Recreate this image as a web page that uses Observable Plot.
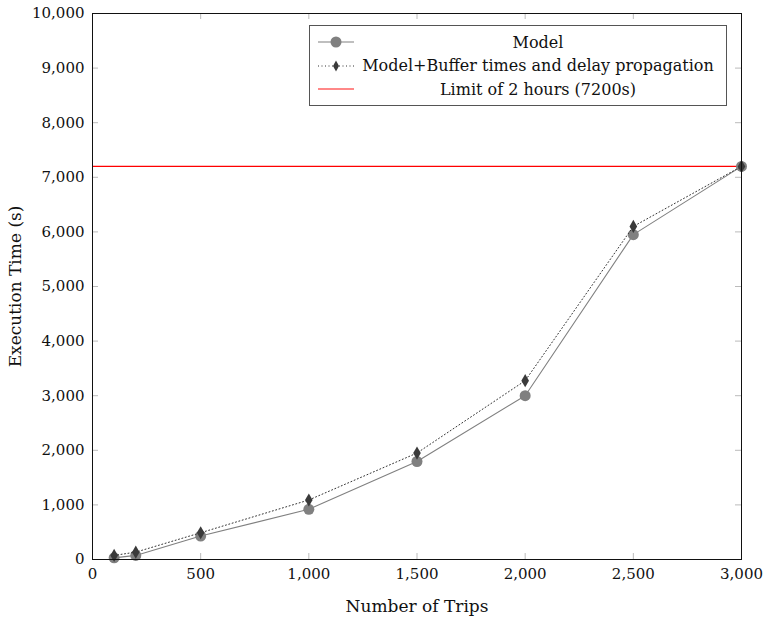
<!DOCTYPE html>
<html><head><meta charset="utf-8">
<script src="https://cdn.jsdelivr.net/npm/d3@7"></script>
<script src="https://cdn.jsdelivr.net/npm/@observablehq/plot@0.6"></script>
<style>
body{margin:0;background:#fff;}
#wrap{position:relative;width:767px;height:622px;font-family:'DejaVu Serif',serif;}
#legend{position:absolute;left:309px;top:25px;width:418px;height:81px;border:1px solid #555;background:#fff;box-sizing:border-box;font-size:16px;color:#111;font-family:'DejaVu Serif',serif;}
.row{position:absolute;left:0;width:100%;height:22px;display:flex;align-items:center;}
.row svg{flex:none;margin-left:8px;}
.row span{flex:1;text-align:center;padding-right:4px;white-space:nowrap;}
</style></head>
<body><div id="wrap"><div id="legend"></div></div>
<script>
const trips = [100, 200, 500, 1000, 1500, 2000, 2500, 3000];
const modelTimes = [30, 75, 430, 920, 1795, 3000, 5950, 7200];
const bufferTimes = [75, 135, 490, 1090, 1950, 3275, 6100, 7200];
const limitSeconds = 7200;
const xTicks = [0, 500, 1000, 1500, 2000, 2500, 3000];
const yTicks = [0, 1000, 2000, 3000, 4000, 5000, 6000, 7000, 8000, 9000, 10000];
const seriesNames = ["Model", "Model+Buffer times and delay propagation", "Limit of 2 hours (7200s)"];

const model = trips.map((t, i) => ({trips: t, time: modelTimes[i]}));
const buffer = trips.map((t, i) => ({trips: t, time: bufferTimes[i]}));

const W = 767, H = 622, mt = 13, mb = 63, ml = 92, mr = 26;
const ph = H - mt - mb, pw = W - ml - mr;
const fmt = d3.format(",");

const chart = Plot.plot({
  width: W, height: H,
  marginTop: mt, marginBottom: mb, marginLeft: ml, marginRight: mr,
  style: {fontFamily: "'DejaVu Serif', serif", fontSize: "15px", color: "#111", background: "#fff"},
  x: {domain: [0, 3000]},
  y: {domain: [0, 10000]},
  marks: [
    Plot.tickX(xTicks, {x: d => d, insetTop: ph - 6, stroke: "#bbb"}),
    Plot.tickX(xTicks, {x: d => d, insetBottom: ph - 6, stroke: "#bbb"}),
    Plot.tickY(yTicks, {y: d => d, insetRight: pw - 6, stroke: "#bbb"}),
    Plot.tickY(yTicks, {y: d => d, insetLeft: pw - 6, stroke: "#bbb"}),
    Plot.axisX(xTicks, {tickSize: 0, tickPadding: 9, tickFormat: fmt, fontSize: 15, label: null}),
    Plot.axisX({tickSize: 0, ticks: [], label: "Number of Trips", labelAnchor: "center", labelArrow: "none", labelOffset: 52, fontSize: 17}),
    Plot.axisY(yTicks, {tickSize: 0, tickPadding: 8, tickFormat: fmt, fontSize: 15, label: null}),
    Plot.axisY({tickSize: 0, ticks: [], label: "Execution Time (s)", labelAnchor: "center", labelArrow: "none", labelOffset: 84, fontSize: 17}),
    Plot.ruleY([limitSeconds], {stroke: "#ff0000", strokeWidth: 1.3}),
    Plot.line(model, {x: "trips", y: "time", stroke: "#808080", strokeWidth: 1.1}),
    Plot.dot(model, {x: "trips", y: "time", r: 5.5, fill: "#808080", stroke: "none"}),
    Plot.line(buffer, {x: "trips", y: "time", stroke: "#333", strokeWidth: 1, strokeDasharray: "1,2.5"}),
    Plot.dot(buffer, {x: "trips", y: "time", symbol: "diamond", r: 4, fill: "#3a3a3a", stroke: "none"}),
    Plot.frame({stroke: "#111", strokeWidth: 1})
  ]
});
document.getElementById("wrap").prepend(chart);

const legend = document.getElementById("legend");
const samples = [
  `<line x1="0" y1="8" x2="36" y2="8" stroke="#808080" stroke-width="1.1"/><circle cx="18" cy="8" r="5.5" fill="#808080"/>`,
  `<line x1="0" y1="8" x2="36" y2="8" stroke="#333" stroke-width="1" stroke-dasharray="1,2.5"/><path d="M18,2.5L21,8L18,13.5L15,8Z" fill="#3a3a3a"/>`,
  `<line x1="0" y1="8" x2="36" y2="8" stroke="#ff6060" stroke-width="1.6"/>`
];
seriesNames.forEach((name, i) => {
  const row = document.createElement("div");
  row.className = "row";
  row.style.top = (5 + i * 23.5) + "px";
  row.innerHTML = `<svg width="36" height="16">${samples[i]}</svg><span>${name}</span>`;
  legend.appendChild(row);
});
</script></body></html>
